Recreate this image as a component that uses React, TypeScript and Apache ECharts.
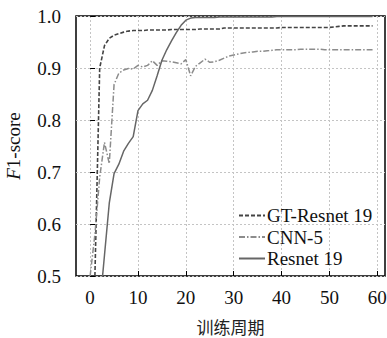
import React, { useEffect, useRef } from "react";
import * as echarts from "echarts";

const epochs = [
  0, 1, 2, 3, 4, 5, 6, 7, 8, 9, 10, 11, 12, 13, 14, 15, 16, 17, 18, 19,
  20, 21, 22, 23, 24, 25, 26, 27, 28, 29, 30, 31, 32, 33, 34, 35, 36, 37, 38, 39,
  40, 41, 42, 43, 44, 45, 46, 47, 48, 49, 50, 51, 52, 53, 54, 55, 56, 57, 58, 59,
];

const gtResnet19 = [
  0.2, 0.5, 0.9, 0.943, 0.957, 0.963, 0.966, 0.969, 0.971, 0.972,
  0.972, 0.972, 0.973, 0.973, 0.973, 0.973, 0.973, 0.974, 0.974, 0.974,
  0.974, 0.974, 0.974, 0.975, 0.975, 0.975, 0.975, 0.975, 0.977, 0.977,
  0.977, 0.977, 0.977, 0.977, 0.977, 0.977, 0.977, 0.977, 0.977, 0.977,
  0.978, 0.978, 0.978, 0.978, 0.978, 0.978, 0.978, 0.978, 0.978, 0.978,
  0.978, 0.979, 0.98, 0.981, 0.981, 0.981, 0.981, 0.981, 0.981, 0.981,
];

const cnn5 = [
  0.5, 0.58, 0.69, 0.757, 0.716, 0.868, 0.89, 0.896, 0.899, 0.898,
  0.905, 0.902, 0.905, 0.914, 0.905, 0.914, 0.913, 0.912, 0.91, 0.908,
  0.916, 0.885, 0.903, 0.91, 0.917, 0.911, 0.912, 0.915, 0.919, 0.923,
  0.925, 0.927, 0.929, 0.93, 0.931, 0.932, 0.932, 0.933, 0.934, 0.935,
  0.935, 0.935, 0.935, 0.935, 0.936, 0.936, 0.936, 0.936, 0.936, 0.935,
  0.935, 0.935, 0.935, 0.935, 0.935, 0.935, 0.935, 0.935, 0.935, 0.935,
];

const resnet19 = [
  0.3, 0.36, 0.44, 0.54, 0.64, 0.697, 0.715, 0.74, 0.755, 0.768,
  0.818, 0.831, 0.838, 0.857, 0.885, 0.915, 0.935, 0.952, 0.968, 0.982,
  0.992, 0.996, 0.997, 0.997, 0.997, 0.997, 0.997, 0.998, 0.998, 0.998,
  0.998, 0.998, 0.998, 0.998, 0.998, 0.998, 0.998, 0.998, 0.998, 0.999,
  0.999, 0.999, 0.999, 0.999, 0.999, 0.999, 0.999, 0.999, 0.999, 0.999,
  0.999, 0.999, 0.999, 0.999, 0.999, 0.999, 0.999, 0.999, 0.999, 0.999,
];

const xTicks = [0, 10, 20, 30, 40, 50, 60];

const seriesNames = ["GT-Resnet 19", "CNN-5", "Resnet 19"];

const SERIF = "Liberation Serif";

export default function App() {
  const ref = useRef<HTMLDivElement>(null);

  useEffect(() => {
    if (!ref.current) return;
    const chart = echarts.init(ref.current, null, { renderer: "svg" });
    const pair = (vals: number[]) => epochs.map((e, i) => [e, vals[i]]);
    const gridLine = { show: true, lineStyle: { color: "#c4c4c4", type: [2, 2] as any, width: 1 } };
    chart.setOption({
      animation: false,
      backgroundColor: "#fff",
      textStyle: { fontFamily: SERIF },
      grid: {
        left: 76,
        top: 16,
        right: 2,
        bottom: 62,
        show: true,
        borderColor: "#000",
        borderWidth: 1.5,
        backgroundColor: "transparent",
        containLabel: false,
        outerBoundsMode: "none",
      },
      legend: {
        orient: "vertical",
        left: 238,
        top: 206,
        padding: 0,
        itemWidth: 26,
        itemHeight: 14,
        itemGap: 2.5,
        data: seriesNames,
        itemStyle: { opacity: 0 },
        textStyle: {
          fontFamily: SERIF,
          fontSize: 19,
          color: "#111",
          lineHeight: 16,
          padding: [0, 0, 0, -3],
        },
      },
      xAxis: {
        type: "value",
        min: -2.95,
        max: 61.6,
        name: "训练周期",
        nameLocation: "middle",
        nameGap: 42,
        nameTextStyle: { fontFamily: "Noto Sans CJK SC", fontSize: 17, color: "#222", verticalAlign: "top" },
        axisLine: { show: false },
        axisTick: { show: true, inside: true, length: 5, customValues: xTicks, lineStyle: { color: "#000", width: 1 } },
        axisLabel: {
          customValues: xTicks,
          margin: 12,
          fontFamily: SERIF,
          fontSize: 19,
          color: "#111",
        },
        splitLine: gridLine,
      },
      yAxis: {
        type: "value",
        min: 0.5,
        max: 1.0,
        interval: 0.1,
        name: "{i|F}{n|1-score}",
        nameLocation: "middle",
        nameRotate: 90,
        nameGap: 53,
        nameTextStyle: {
          rich: {
            i: { fontFamily: SERIF, fontSize: 19, fontStyle: "italic", color: "#111" },
            n: { fontFamily: SERIF, fontSize: 19, color: "#111" },
          },
        },
        axisLine: { show: false },
        axisTick: { show: true, inside: true, length: 5, lineStyle: { color: "#000", width: 1 } },
        axisLabel: {
          margin: 15,
          fontFamily: SERIF,
          fontSize: 19,
          color: "#111",
          formatter: (v: number) => v.toFixed(1),
        },
        splitLine: gridLine,
      },
      series: [
        {
          name: seriesNames[0],
          type: "line",
          data: pair(gtResnet19),
          symbol: "none",
          showSymbol: false,
          clip: true,
          lineStyle: { color: "#444444", width: 1.6, type: [4, 2] },
          itemStyle: { color: "#444444" },
        },
        {
          name: seriesNames[1],
          type: "line",
          data: pair(cnn5),
          symbol: "none",
          showSymbol: false,
          clip: true,
          lineStyle: { color: "#8c8c8c", width: 1.5, type: [6, 2, 1.5, 2] },
          itemStyle: { color: "#8c8c8c" },
        },
        {
          name: seriesNames[2],
          type: "line",
          data: pair(resnet19),
          symbol: "none",
          showSymbol: false,
          clip: true,
          lineStyle: { color: "#666666", width: 1.5, type: "solid" },
          itemStyle: { color: "#666666" },
        },
      ],
    });
    return () => chart.dispose();
  }, []);

  return (
    <div
      ref={ref}
      style={{ position: "fixed", left: 0, top: 0, width: 387, height: 338, background: "#fff" }}
    />
  );
}
